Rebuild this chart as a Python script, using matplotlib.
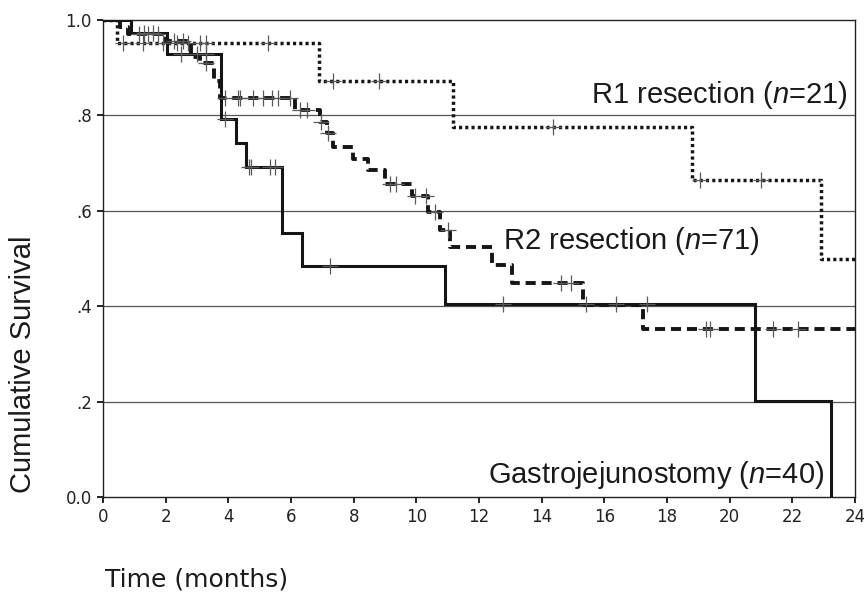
import numpy as np
import matplotlib
matplotlib.use('Agg')
import matplotlib.pyplot as plt

plt.rcParams['mathtext.fontset'] = 'custom'
plt.rcParams['mathtext.it'] = 'Liberation Sans:italic'
plt.rcParams['mathtext.rm'] = 'Liberation Sans'

# ---- data (months, cumulative survival) ----
r1_times = [0, 0.45, 6.9, 11.16, 18.8, 22.9, 24.0]
r1_surv = [1.0, 0.952, 0.873, 0.776, 0.665, 0.499, 0.499]
r1_censor = [0.65, 1.28, 1.9, 2.37, 2.7, 3.1, 3.3, 5.27, 7.33, 8.8, 14.35, 19.05, 21.0]

r2_times = [0, 0.55, 0.8, 2.0, 2.8, 3.1, 3.55, 3.72, 6.12, 6.92, 7.14, 7.34, 7.97,
            8.45, 9.0, 9.85, 10.37, 10.75, 11.09, 12.4, 13.04, 15.31, 17.23, 24.0]
r2_surv = [1.0, 0.986, 0.971, 0.956, 0.923, 0.909, 0.872, 0.836, 0.811, 0.787, 0.764,
           0.734, 0.709, 0.686, 0.657, 0.630, 0.598, 0.560, 0.524, 0.486, 0.448, 0.402,
           0.352, 0.352]
r2_censor = [1.15, 1.45, 1.75, 2.25, 2.55, 3.3, 3.9, 4.3, 4.38, 4.8, 5.1, 5.4, 5.6, 5.97,
             6.3, 6.5, 6.95, 7.18, 9.15, 9.35, 9.95, 10.32, 10.58, 11.0, 14.63, 14.95,
             19.26, 19.37, 21.38, 22.18]

gj_times = [0, 0.9, 2.05, 3.76, 4.24, 4.56, 5.71, 6.35, 10.9, 20.8, 23.24]
gj_surv = [1.0, 0.972, 0.929, 0.792, 0.743, 0.692, 0.554, 0.485, 0.404, 0.202, 0.0]
gj_censor = [1.3, 1.6, 2.5, 3.0, 3.3, 3.9, 4.66, 4.72, 5.33, 5.5, 7.24, 12.77, 15.4,
             16.36, 17.36]

x_ticks = list(range(0, 25, 2))
y_ticks = [0.0, 0.2, 0.4, 0.6, 0.8, 1.0]
y_ticklabels = ['0.0', '.2', '.4', '.6', '.8', '1.0']


def surv_at(times, surv, t):
    i = np.searchsorted(times, t, side='right') - 1
    return np.asarray(surv)[i]


fig = plt.figure(figsize=(8.64, 5.93), dpi=100)
ax = fig.add_axes([103 / 864, 1 - 497 / 593, (855 - 103) / 864, (497 - 20) / 593])

for yv in [0.2, 0.4, 0.6, 0.8]:
    ax.axhline(yv, color='#555555', lw=0.9, zorder=1)

ink = '#151515'
ax.plot(gj_times, gj_surv, drawstyle='steps-post', color=ink, lw=2.2, zorder=3,
        solid_joinstyle='miter')
ax.plot(r2_times, r2_surv, drawstyle='steps-post', color=ink, lw=2.8, zorder=3,
        dashes=(2.6, 1.5))
ax.plot(r1_times, r1_surv, drawstyle='steps-post', color=ink, lw=2.5, zorder=3,
        dashes=(0.9, 0.9))

mk = dict(marker='+', linestyle='none', color='#5a5a5a', markersize=11, mew=0.9, zorder=4)
ax.plot(r1_censor, [surv_at(r1_times, r1_surv, t) for t in r1_censor], **mk)
ax.plot(r2_censor, [surv_at(r2_times, r2_surv, t) for t in r2_censor], **mk)
ax.plot(gj_censor, [surv_at(gj_times, gj_surv, t) for t in gj_censor], **mk)

ax.set_xlim(0, 24)
ax.set_ylim(0, 1.0)
ax.set_xticks(x_ticks)
ax.set_xticklabels([str(v) for v in x_ticks])
ax.set_yticks(y_ticks)
ax.set_yticklabels(y_ticklabels)
for s in ax.spines.values():
    s.set_color('#222222')
    s.set_linewidth(1.0)
ax.tick_params(axis='both', direction='out', length=4, width=1.4, color='#222222',
               labelsize=12, labelcolor='#222222', pad=4)
for lab in ax.get_xticklabels() + ax.get_yticklabels():
    lab.set_family('DejaVu Sans')

tf = dict(family='Liberation Sans', fontsize=21, color='#1a1a1a')
ax.text(23.76, 0.826, 'R1 resection ($\\mathit{n}$=21)', ha='right', va='baseline', **tf)
ax.text(12.76, 0.52, 'R2 resection ($\\mathit{n}$=71)', ha='left', va='baseline', **tf)
ax.text(23.03, 0.029, 'Gastrojejunostomy ($\\mathit{n}$=40)', ha='right', va='baseline', **tf)

fig.text(23 / 864, 1 - 364 / 593, 'Cumulative Survival', rotation=90, ha='center',
         va='center', family='Liberation Sans', fontsize=21, color='#1a1a1a')
fig.text(105 / 864, 1 - 579 / 593, 'Time (months)', ha='left', va='center',
         family='DejaVu Sans', fontsize=18, color='#1a1a1a')

fig.savefig('out.png', dpi=100)
